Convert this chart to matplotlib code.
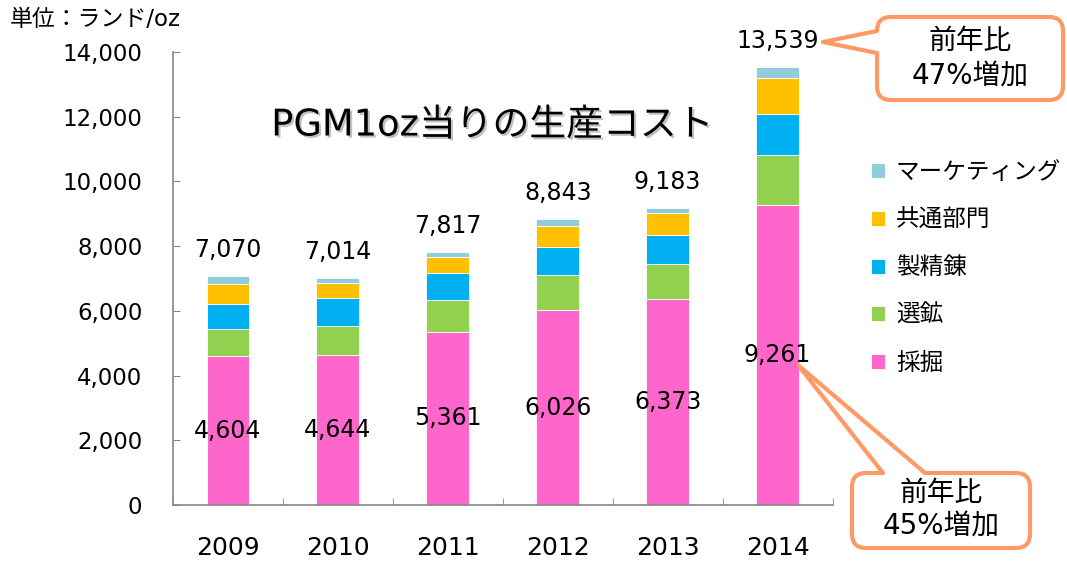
import numpy as np
import matplotlib
matplotlib.use("Agg")
from matplotlib import pyplot as plt
from matplotlib.path import Path
from matplotlib.patches import PathPatch
import matplotlib.patheffects as pe

plt.rcParams['font.family'] = ['DejaVu Sans', 'Noto Sans CJK JP']

years = ["2009", "2010", "2011", "2012", "2013", "2014"]
totals = [7070, 7014, 7817, 8843, 9183, 13539]
mining = [4604, 4644, 5361, 6026, 6373, 9261]
beneficiation = [820, 885, 974, 1080, 1079, 1563]
refining = [790, 873, 833, 882, 904, 1264]
common = [615, 463, 493, 638, 659, 1120]
marketing = [t - m - b - r - c for t, m, b, r, c in zip(totals, mining, beneficiation, refining, common)]

names = ["採掘", "選鉱", "製精錬", "共通部門", "マーケティング"]
colors = ["#FF66CC", "#92D050", "#00B0F0", "#FFC000", "#92CDDC"]
series = [mining, beneficiation, refining, common, marketing]

W, H = 1067, 561
fig = plt.figure(figsize=(W / 100, H / 100), dpi=100)
ax = fig.add_axes([173 / W, 1 - 505 / H, (832.5 - 173) / W, (505 - 52) / H])

x = np.arange(len(years))
bottom = np.zeros(len(years))
bars = []
for vals, name, col in zip(series, names, colors):
    b = ax.bar(x, vals, 0.39, bottom=bottom, color=col, label=name,
               edgecolor="white", linewidth=0.6)
    bars.append(b)
    bottom = bottom + np.array(vals)

for i in range(len(years)):
    ax.annotate(f"{totals[i]:,}", (x[i], bottom[i]), xytext=(0, 10),
                textcoords="offset points", ha="center", va="bottom", fontsize=17)
    ax.text(x[i], mining[i] / 2, f"{mining[i]:,}", ha="center", va="center", fontsize=17)

ax.set_xlim(-0.5, 5.5)
ax.set_ylim(0, 14000)
ax.set_yticks(range(0, 14001, 2000))
ax.set_yticklabels([f"{v:,}" for v in range(0, 14001, 2000)], fontsize=16.5)
ax.set_xticks(x)
ax.set_xticklabels(years, fontsize=18)
ax.set_xticks(np.arange(-0.5, 6, 1), minor=True)
ax.tick_params(axis="x", which="major", length=0, pad=22)
ax.tick_params(axis="x", which="minor", direction="in", length=5, color="#868686")
ax.tick_params(axis="y", direction="in", length=5, color="#868686", pad=22)
for s in ["top", "right"]:
    ax.spines[s].set_visible(False)
for s in ["left", "bottom"]:
    ax.spines[s].set_color("#868686")
    ax.spines[s].set_linewidth(1.2)

handles = [b for b in bars][::-1]
fig.legend(handles, names[::-1], loc="upper left", bbox_to_anchor=(850 / W, 1 - 139 / H),
           frameon=False, fontsize=17, handlelength=0.6, handleheight=0.6,
           handletextpad=0.45, labelspacing=1.0)

fig.text(492 / W, 1 - 125 / H, "PGM1oz当りの生産コスト", ha="center", va="center", fontsize=26.5,
         path_effects=[pe.withSimplePatchShadow(offset=(1.5, -1.5), shadow_rgbFace="#999999", alpha=0.6)])
fig.text(10 / W, 1 - 20 / H, "単位：ランド/oz", ha="left", va="center", fontsize=16.5)

# callouts in pixel coordinates
ov = fig.add_axes([0, 0, 1, 1])
ov.set_xlim(0, W)
ov.set_ylim(H, 0)
ov.axis("off")
ov.patch.set_visible(False)


def callout(x0, y0, x1, y1, r, side, b0, b1, tip):
    verts, codes = [], []

    def move(p):
        verts.append(p)
        codes.append(Path.MOVETO)

    def line(p):
        verts.append(p)
        codes.append(Path.LINETO)

    def curve(c, p):
        verts.extend([c, p])
        codes.extend([Path.CURVE3, Path.CURVE3])

    move((x0 + r, y0))
    if side == "top":
        line((b0, y0))
        line(tip)
        line((b1, y0))
    line((x1 - r, y0))
    curve((x1, y0), (x1, y0 + r))
    line((x1, y1 - r))
    curve((x1, y1), (x1 - r, y1))
    line((x0 + r, y1))
    curve((x0, y1), (x0, y1 - r))
    if side == "left":
        line((x0, b1))
        line(tip)
        line((x0, b0))
    line((x0, y0 + r))
    curve((x0, y0), (x0 + r, y0))
    verts.append((x0 + r, y0))
    codes.append(Path.CLOSEPOLY)
    ov.add_patch(PathPatch(Path(verts, codes), facecolor="white", edgecolor="#FF9966",
                           linewidth=3, joinstyle="round"))


callout(877, 17, 1063, 100, 14, "left", 31, 53, (823, 42))
ov.text(970, 41, "前年比", ha="center", va="center", fontsize=20)
ov.text(970, 77, "47%増加", ha="center", va="center", fontsize=20)

callout(852, 473, 1030, 548, 14, "top", 883, 925, (798, 365))
ov.text(941, 493, "前年比", ha="center", va="center", fontsize=20)
ov.text(941, 527, "45%増加", ha="center", va="center", fontsize=20)

fig.savefig("out.png", dpi=100)
